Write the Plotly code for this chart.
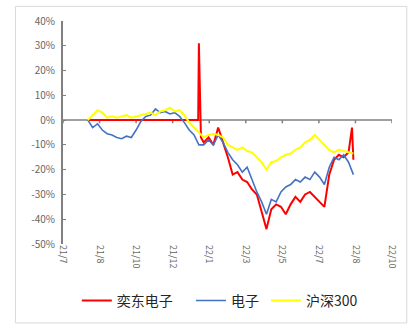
import pandas as pd
import plotly.graph_objects as go

# Weekly observation dates (Fridays)
week_dates = pd.date_range("2021-08-06", "2022-08-26", freq="W-FRI")

# Cumulative returns (%)
electronics = [0, -3, -1.5, -4, -5.5, -6, -7, -7.5, -6.5, -7,
               -4, -0.5, 1.5, 2, 4.5, 3, 3.5, 2.5, 3, 1.5,
               -1, -4, -6, -10, -10, -8, -10, -6, -9, -13,
               -16, -18, -21, -19, -24, -29, -33, -38, -32, -33,
               -29, -27, -26, -24, -25, -23, -24, -21, -23, -26,
               -19, -15, -16, -14, -17, -22]

csi300 = [0, 2, 4, 3, 1, 1.5, 1, 1.5, 2, 1,
          1.5, 2, 2.5, 3, 2, 3.5, 4, 5, 3.5, 4,
          2, -1, -3, -5, -7, -6, -5.5, -6, -7, -10,
          -11, -12, -11, -12.5, -13, -15, -17, -20, -17, -16.5,
          -15, -14, -13.5, -12, -11, -9, -8, -6, -8, -10,
          -12, -13, -12, -12.5, -13, -13.5]

# 奕东电子: flat before listing, then listing-day jump and trading afterwards
yidong_dates = list(week_dates[:23]) + [pd.Timestamp(d) for d in [
    "2022-01-13", "2022-01-14", "2022-01-17"]] + list(week_dates[24:55]) + [
    pd.Timestamp("2022-08-24"), week_dates[55]]
yidong = [0] * 23 + [0, 31, -7] + [
    -9, -7, -10, -3, -9, -15, -22, -21, -24, -25,
    -28, -30, -37, -44, -36, -34, -35, -38, -34, -31,
    -33, -30, -29, -31, -33, -35, -22, -16, -14, -15,
    -13] + [-3, -16]

tick_dates = ["2021-07-01", "2021-08-23", "2021-10-15", "2021-12-07", "2022-01-29",
              "2022-03-23", "2022-05-15", "2022-07-07", "2022-08-29", "2022-10-21"]
tick_labels = ["21/7", "21/8", "21/10", "21/12", "22/1",
               "22/3", "22/5", "22/7", "22/8", "22/10"]
y_ticks = [-50, -40, -30, -20, -10, 0, 10, 20, 30, 40]

axis_grey = "#808080"
label_grey = "#666666"

series = [
    ("奕东电子", yidong_dates, yidong, "#ff0000", 2.0, "legend", 0.042),
    ("电子", week_dates, electronics, "#4472c4", 1.6, "legend2", 0.389),
    ("沪深300", week_dates, csi300, "#ffff00", 2.0, "legend3", 0.617),
]

fig = go.Figure()
legend_layout = {}
for name, xs, ys, color, width, legend_id, lx in series:
    fig.add_trace(go.Scatter(x=xs, y=ys, name=name, mode="lines",
                             line=dict(color=color, width=width),
                             legend=legend_id))
    legend_layout[legend_id] = dict(
        orientation="h", x=lx, xanchor="left", y=-0.255, yanchor="middle",
        font=dict(size=14, color="#262626"), bgcolor="rgba(0,0,0,0)")

# Horizontal date axis drawn along the 0% line, with short tick marks
shapes = [dict(type="line", xref="x", yref="y", layer="below",
               x0=tick_dates[0], x1=tick_dates[-1], y0=0, y1=0,
               line=dict(color=axis_grey, width=1.5))]
for d in tick_dates:
    shapes.append(dict(type="line", xref="x", yref="y", layer="below",
                       x0=d, x1=d, y0=0, y1=-1.3,
                       line=dict(color=axis_grey, width=1.5)))
# Outer chart frame
shapes.append(dict(type="rect", xref="paper", yref="paper",
                   x0=-0.1446, x1=1.045, y0=-0.354, y1=1.0655,
                   line=dict(color="#d9d9d9", width=1)))

fig.update_layout(
    width=411, height=329,
    margin=dict(l=63, r=16, t=18, b=82),
    paper_bgcolor="white", plot_bgcolor="white",
    font=dict(family="Noto Sans CJK SC", color=label_grey),
    showlegend=True,
    xaxis=dict(type="date", range=[tick_dates[0], tick_dates[-1]],
               tickvals=tick_dates, ticktext=tick_labels, tickangle=90,
               tickfont=dict(size=9, color=label_grey),
               showline=False, ticks="", showgrid=False, zeroline=False),
    yaxis=dict(range=[-50, 40], tickvals=y_ticks,
               ticktext=[f"{v}%" for v in y_ticks],
               tickfont=dict(size=10, color=label_grey), ticklabelstandoff=4,
               showline=True, linecolor=axis_grey, linewidth=2,
               ticks="inside", ticklen=3, tickcolor=axis_grey,
               showgrid=False, zeroline=False),
    shapes=shapes,
    **legend_layout,
)

fig.write_html("out.html")
